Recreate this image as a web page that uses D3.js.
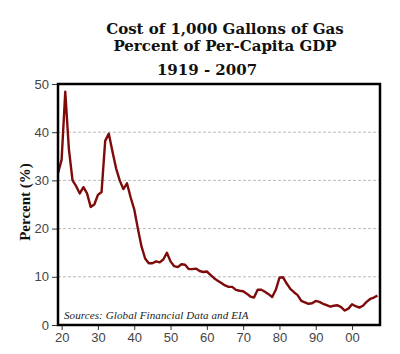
<!DOCTYPE html>
<html lang="en">
<head>
  <meta charset="UTF-8">
  <title>Cost of 1,000 Gallons of Gas</title>
  <script src="https://cdn.jsdelivr.net/npm/d3@7"></script>
  <style>
    body { margin: 0; background: #fff; }
    .title { font-family: 'DejaVu Serif', serif; font-weight: bold; font-size: 15px; text-anchor: middle; fill: #111; }
    .axis text { font-family: 'Liberation Sans', Arial, sans-serif; font-size: 13px; fill: #444; }
    .axis path { display: none; }
    .axis line { stroke: #333; }
  </style>
</head>
<body>
  <svg width="400" height="354"></svg>
  <script>
    // annual values, percent of per-capita GDP
    var years = d3.range(1919, 2008);
    var percent = [
      31.5, 34.3, 48.4, 36.5, 30.0, 28.8, 27.3, 28.6, 27.3, 24.5,
      25.0, 27.0, 27.6, 38.2, 39.7, 36.0, 32.5, 30.0, 28.2, 29.4,
      26.5, 24.0, 20.0, 16.3, 13.8, 12.8, 12.8, 13.2, 13.0, 13.6,
      15.0, 13.2, 12.2, 12.0, 12.6, 12.5, 11.6, 11.6, 11.7, 11.2,
      11.0, 11.1, 10.4, 9.7, 9.2, 8.7, 8.2, 7.9, 7.9, 7.3,
      7.1, 7.0, 6.5, 5.9, 5.7, 7.3, 7.3, 6.9, 6.4, 5.8,
      7.3, 9.8, 9.9, 8.6, 7.5, 6.8, 6.2, 5.0, 4.7, 4.4,
      4.5, 5.0, 4.8, 4.4, 4.1, 3.8, 4.0, 4.1, 3.7, 3.0,
      3.4, 4.3, 3.9, 3.6, 4.0, 4.8, 5.4, 5.7, 6.1
    ];
    var xTicks = [1920, 1930, 1940, 1950, 1960, 1970, 1980, 1990, 2000];
    var yTicks = [0, 10, 20, 30, 40, 50];
    var titleLines = ['Cost of 1,000 Gallons of Gas', 'Percent of Per-Capita GDP', '1919 - 2007'];

    var svg = d3.select('svg');
    var plot = {left: 58, right: 380, top: 84, bottom: 325};

    var x = d3.scaleLinear().domain([1919, 2007.7]).range([plot.left, plot.right]);
    var y = d3.scaleLinear().domain([0, 50]).range([plot.bottom, plot.top]);

    // title
    svg.selectAll('.title')
      .data(titleLines)
      .enter()
      .append('text')
      .attr('class', 'title')
      .attr('x', function(d, i) { return i === 2 ? 207 : 225; })
      .attr('y', function(d, i) { return [34, 51, 75][i]; })
      .text(function(d) { return d; });

    // gridlines
    svg.append('g')
      .selectAll('line')
      .data(yTicks.filter(function(d) { return d > 0 && d < 50; }))
      .enter()
      .append('line')
      .attr('x1', plot.left).attr('x2', plot.right)
      .attr('y1', function(d) { return y(d); })
      .attr('y2', function(d) { return y(d); })
      .attr('stroke', '#bbb')
      .attr('stroke-dasharray', '3,2');

    svg.append('g')
      .attr('class', 'axis')
      .attr('transform', 'translate(' + plot.left + ',0)')
      .call(d3.axisLeft(y).tickValues(yTicks).tickSize(6).tickPadding(3));

    svg.append('g')
      .attr('class', 'axis')
      .attr('transform', 'translate(0,' + plot.bottom + ')')
      .call(d3.axisBottom(x).tickValues(xTicks).tickSize(5).tickPadding(3)
        .tickFormat(function(d) { return d3.format('02d')(d % 100); }));

    // line
    svg.append('path')
      .datum(years)
      .attr('fill', 'none')
      .attr('stroke', '#7f0a0a')
      .attr('stroke-width', 2.4)
      .attr('stroke-linejoin', 'round')
      .attr('d', d3.line()
        .x(function(d) { return x(d); })
        .y(function(d, i) { return y(percent[i]); }));

    // frame
    svg.append('rect')
      .attr('x', plot.left).attr('y', plot.top)
      .attr('width', plot.right - plot.left).attr('height', plot.bottom - plot.top)
      .attr('fill', 'none')
      .attr('stroke', '#000')
      .attr('stroke-width', 2.5);

    svg.append('text')
      .attr('x', 64).attr('y', 319)
      .attr('font-family', 'Liberation Serif, serif')
      .attr('font-style', 'italic')
      .attr('font-size', 11)
      .attr('letter-spacing', 0.1)
      .attr('fill', '#222')
      .text('Sources: Global Financial Data and EIA');

    svg.append('text')
      .attr('transform', 'translate(30,202) rotate(-90)')
      .attr('text-anchor', 'middle')
      .attr('font-family', 'Liberation Serif, serif')
      .attr('font-weight', 'bold')
      .attr('font-size', 15)
      .attr('fill', '#111')
      .text('Percent (%)');
  </script>
</body>
</html>
